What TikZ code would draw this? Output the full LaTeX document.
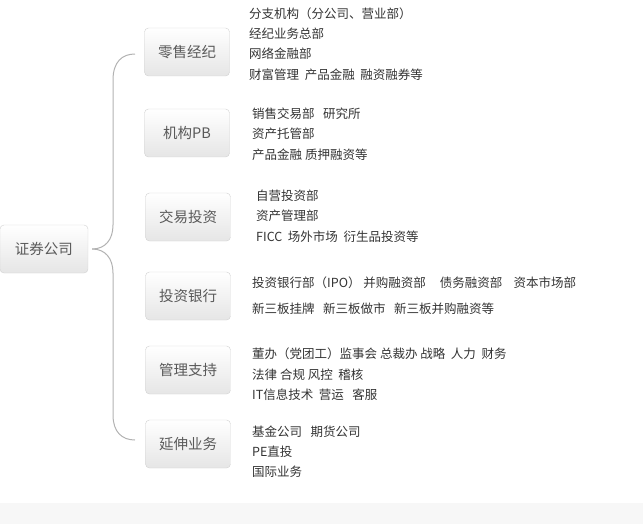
\documentclass[tikz,border=0pt]{standalone}
\usepackage{fontspec}
\setmainfont{Noto Sans CJK SC}
\begin{document}
\begin{tikzpicture}[x=1pt,y=-1pt,
  box/.style={draw=black!18,rounded corners=4pt,top color=white,bottom color=black!10,text=black!65,font=\fontsize{14.5}{16}\selectfont,minimum height=48pt,inner sep=0pt},
  item/.style={anchor=west,text=black!80,font=\fontsize{12.5}{14}\selectfont,inner sep=0pt},
  br/.style={draw=black!30,line width=1pt}]
\useasboundingbox (0,0) rectangle (643,524);
\fill[black!3] (0,503) rectangle (643,524);
\node[box,minimum width=88pt] (root) at (44,249) {证券公司};
\node[box,minimum width=85pt] (b1) at (187,52) {零售经纪};
\node[box,minimum width=85pt] (b2) at (187,133) {机构PB};
\node[box,minimum width=85pt] (b3) at (188,217) {交易投资};
\node[box,minimum width=85pt] (b4) at (188,296) {投资银行};
\node[box,minimum width=85pt] (b5) at (188,370) {管理支持};
\node[box,minimum width=85pt] (b6) at (188,444) {延伸业务};
\coordinate (t) at (135,54);
\coordinate (bt) at (135,440);
\draw[br] (root.east) ++(4,0) coordinate (r) .. controls (105,249) and (113,240) .. (113,225) -- (113,80) .. controls (113,62) and (122,54) .. (t);
\draw[br] (r) .. controls (105,249) and (113,258) .. (113,273) -- (113,415) .. controls (113,432) and (122,440) .. (bt);
\node[item] (a1) at (249,14) {分支机构（分公司、营业部）};
\node[item] (a2) at (249,34) {经纪业务总部};
\node[item] (a3) at (249,54) {网络金融部};
\node[item] (a4) at (249,75) {财富管理\ \ 产品金融\ \ 融资融券等};
\node[item] (c1) at (252,114) {销售交易部\ \ \ 研究所};
\node[item] (c2) at (252,134) {资产托管部};
\node[item] (c3) at (252,155) {产品金融\ 质押融资等};
\node[item] (d1) at (256,196) {自营投资部};
\node[item] (d2) at (256,216) {资产管理部};
\node[item] (d3) at (256,237) {FICC\ \ 场外市场\ \ 衍生品投资等};
\node[item] (e1) at (252,283) {投资银行部（IPO）\ 并购融资部\ \ \ \ \ 债务融资部\ \ \ \ 资本市场部};
\node[item] (e2) at (252,309) {新三板挂牌\ \ \ 新三板做市\ \ \ 新三板并购融资等};
\node[item] (f1) at (252,354) {董办（党团工）监事会 总裁办\ 战略\ \ 人力\ \ 财务};
\node[item] (f2) at (252,375) {法律 合规\ 风控\ \ 稽核};
\node[item] (f3) at (252,395) {IT信息技术\ \ 营运\ \ \ 客服};
\node[item] (g1) at (252,432) {基金公司\ \ \ 期货公司};
\node[item] (g2) at (252,452) {PE直投};
\node[item] (g3) at (252,472) {国际业务};
\end{tikzpicture}
\end{document}
